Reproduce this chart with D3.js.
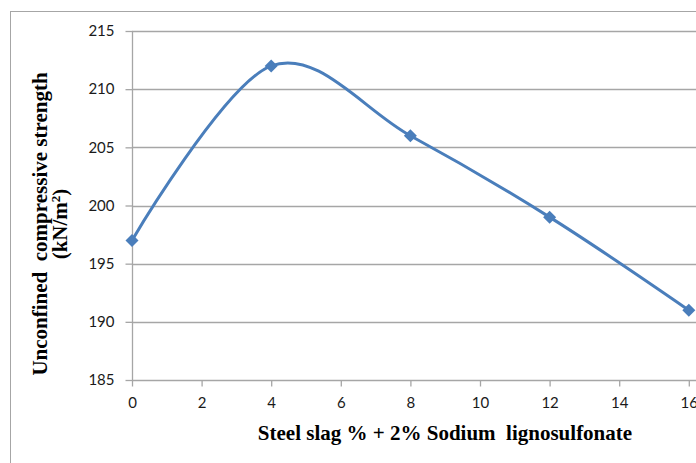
<!DOCTYPE html>
<html><head><meta charset="utf-8">
<script src="https://cdn.jsdelivr.net/npm/d3@7"></script>
<style>html,body{margin:0;padding:0;background:#fff;overflow:hidden} text{white-space:pre}</style>
</head><body>
<svg id="c" width="696" height="463"></svg>
<script>
const xValues = [0, 4, 8, 12, 16];
const yValues = [197, 212, 206, 199, 191];
const xTicks = [0, 2, 4, 6, 8, 10, 12, 14, 16];
const yTicks = [185, 190, 195, 200, 205, 210, 215];
const xTitle = "Steel slag % + 2% Sodium  lignosulfonate";
const yTitle1 = "Unconfined  compressive strength";
const yTitle2 = "(kN/m";

(function () {
const svg = d3.select("#c");
const pLeft = 132, pRight = 688.8, pTop = 31, pBottom = 380;
const x = d3.scaleLinear().domain([0, 16]).range([pLeft, pRight]);
const y = d3.scaleLinear().domain([185, 215]).range([pBottom, pTop]);

// outer chart border
svg.append("rect").attr("x", 10.5).attr("y", 11.5).attr("width", 720).attr("height", 470)
  .attr("fill", "#fff").attr("stroke", "#a6a6a6").attr("stroke-width", 1);

// gridlines
svg.append("g").selectAll("line").data(yTicks.filter(d => d !== 185)).join("line")
  .attr("x1", pLeft).attr("x2", 700)
  .attr("y1", d => Math.round(y(d)) + 0.5).attr("y2", d => Math.round(y(d)) + 0.5)
  .attr("stroke", "#a6a6a6").attr("stroke-width", 1.3);

const tickFont = "Lato, 'Open Sans', sans-serif";
// y axis
const yAxis = svg.append("g").attr("transform", `translate(${pLeft + 0.5},0)`)
  .call(d3.axisLeft(y).tickValues(yTicks).tickSize(7).tickPadding(11));
yAxis.select(".domain").attr("stroke", "#a6a6a6").attr("stroke-width", 1.3).attr("d", `M0,${y(185)}V${y(215)}`);
yAxis.selectAll(".tick line").attr("stroke", "#a6a6a6").attr("stroke-width", 1.3);
yAxis.selectAll("text").attr("font-family", tickFont).attr("font-size", 15).attr("fill", "#1a1a1a");

// x axis
const xAxis = svg.append("g").attr("transform", `translate(0,${Math.round(pBottom) + 0.5})`)
  .call(d3.axisBottom(x).tickValues(xTicks).tickSize(6).tickPadding(11).tickFormat(d3.format("d")));
xAxis.select(".domain").attr("stroke", "#a6a6a6").attr("stroke-width", 1.3).attr("d", `M${pLeft},0H700`);
xAxis.selectAll(".tick line").attr("stroke", "#a6a6a6").attr("stroke-width", 1.3);
xAxis.selectAll("text").attr("font-family", tickFont).attr("font-size", 15).attr("fill", "#1a1a1a");

// line
const data = xValues.map((v, i) => [v, yValues[i]]);
const line = d3.line().x(d => x(d[0])).y(d => y(d[1])).curve(d3.curveCardinal.tension(0));
svg.append("path").datum(data).attr("d", line).attr("fill", "none")
  .attr("stroke", "#4a7ebb").attr("stroke-width", 3);

// markers
svg.append("g").selectAll("path").data(data).join("path")
  .attr("transform", d => `translate(${x(d[0])},${y(d[1])})`)
  .attr("d", "M0,-6.5L6.5,0L0,6.5L-6.5,0Z").attr("fill", "#4a7ebb");

// titles
const titleFont = "'Liberation Serif', 'Times New Roman', serif";
svg.append("text").attr("x", 445).attr("y", 440).attr("text-anchor", "middle")
  .attr("font-family", titleFont).attr("font-weight", "bold")
  .attr("font-size", 21).attr("fill", "#000").text(xTitle);

const yt = svg.append("g").attr("transform", "translate(0,224) rotate(-90)")
  .attr("font-family", titleFont).attr("font-weight", "bold")
  .attr("font-size", 21).attr("fill", "#000").attr("text-anchor", "middle");
yt.append("text").attr("x", 0).attr("y", 47).text(yTitle1);
const t2 = yt.append("text").attr("x", 0).attr("y", 67);
t2.append("tspan").text(yTitle2);
t2.append("tspan").attr("dy", -7).attr("font-size", 13).text("2");
t2.append("tspan").attr("dy", 7).text(")");
})();
</script>
</body></html>
